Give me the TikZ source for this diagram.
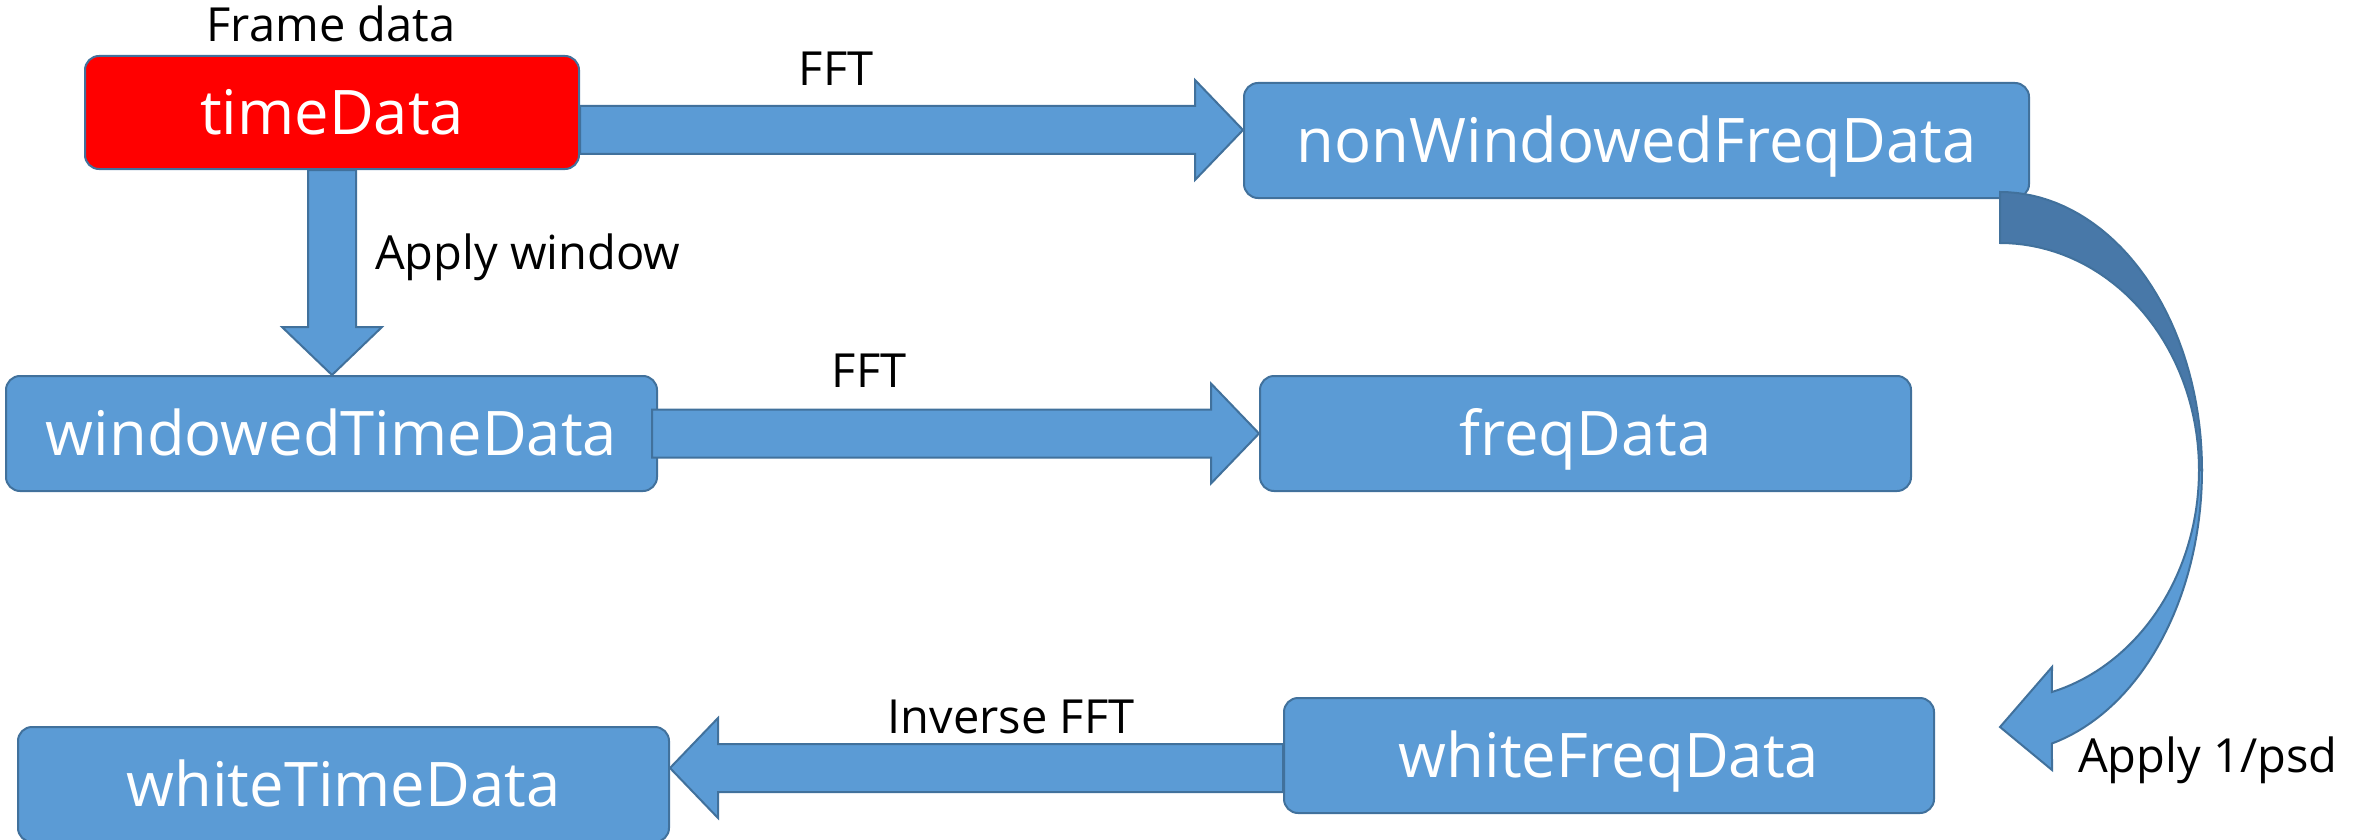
\documentclass[tikz,border=0pt]{standalone}
\usepackage{fontspec}
\setmainfont{Open Sans}
\usetikzlibrary{calc}

\definecolor{boxblue}{HTML}{5B9BD5}
\definecolor{lineblue}{HTML}{41719C}
\definecolor{shadeblue}{HTML}{4878A8}

\tikzset{
	databox/.style={draw=lineblue, line width=2pt, fill=boxblue, rounded corners=14pt,
		text=white, font=\fontsize{61.5}{72}\selectfont, text height=44pt, text depth=0pt,
		inner sep=0pt, minimum height=115pt, minimum width=651pt},
	steplabel/.style={font=\fontsize{47}{56}\selectfont, inner sep=0pt},
	arrowbody/.style={draw=lineblue, line width=2pt, fill=boxblue, line join=miter},
}

% block arrow from #1 to #2 (tip at #2)
\newcommand{\blockarrow}[2]{%
	\filldraw[arrowbody] ($(#1)!24pt!90:(#2)$) -- ($(#2)!48pt!(#1)!24pt!90:(#2)$)
		-- ($(#2)!48pt!(#1)!50pt!90:(#2)$) -- (#2)
		-- ($(#2)!48pt!(#1)!50pt!-90:(#2)$) -- ($(#2)!48pt!(#1)!24pt!-90:(#2)$)
		-- ($(#1)!24pt!-90:(#2)$) -- cycle;}

\begin{document}
\begin{tikzpicture}[x=1pt, y=-1pt]

		\useasboundingbox (0,0) rectangle (2369,840);
		\clip (0,0) rectangle (2369,840);

		\node[databox, fill=red, minimum width=494pt, minimum height=113pt] (timeData) at (332,112.5) {timeData};
		\node[databox, minimum width=785pt] (nonWindowedFreqData) at (1636.5,140.5) {nonWindowedFreqData};
		\node[databox] (windowedTimeData) at (331.5,433.5) {windowedTimeData};
		\node[databox] (freqData) at (1585.5,433.5) {freqData};
		\node[databox, minimum width=650pt] (whiteFreqData) at (1609,755.5) {whiteFreqData};
		\node[databox] (whiteTimeData) at (343.5,784.5) {whiteTimeData};

		\coordinate (fftAs) at ([yshift=-17.5pt]timeData.east);
		\coordinate (fftAe) at (nonWindowedFreqData.west |- fftAs);
		\coordinate (winE) at (timeData.south |- windowedTimeData.north);
		\coordinate (fftBs) at ([xshift=-6pt]windowedTimeData.east);
		\coordinate (invS) at ([yshift=-12.5pt]whiteFreqData.west);
		\coordinate (invE) at (whiteTimeData.east |- invS);

		\blockarrow{fftAs}{fftAe}
		\blockarrow{timeData.south}{winE}
		\blockarrow{fftBs}{freqData.west}
		\blockarrow{invS}{invE}

		% curved arrow, lower (light) half first
		\filldraw[arrowbody] plot[domain=0:75.1, samples=40] ({2000+202*cos(\x)},{470+283*sin(\x)})
			-- (2052,770) -- (2000,727) -- (2052,667)
			-- plot[domain=74.9:0, samples=40] ({2000+199*cos(\x)},{470+230*sin(\x)}) -- cycle;
		\filldraw[arrowbody, fill=shadeblue] plot[domain=-90:0, samples=40] ({2000+202*cos(\x)},{470+278*sin(\x)})
			-- plot[domain=0:-90, samples=40] ({2000+199*cos(\x)},{470+227*sin(\x)}) -- cycle;

		\node[steplabel, anchor=base] (framelbl) at (331,42) {Frame data};
		\node[steplabel, anchor=base] (fftAlbl) at (836,86) {FFT};
		\node[steplabel, anchor=base west] (windowlbl) at (375,269) {Apply window};
		\node[steplabel, anchor=base] (fftBlbl) at (869,387) {FFT};
		\node[steplabel, anchor=base] (invlbl) at (1011,733) {Inverse FFT};
		\node[steplabel, anchor=base west] (psdlbl) at (2078,772) {Apply 1/psd};

	\end{tikzpicture}
\end{document}
